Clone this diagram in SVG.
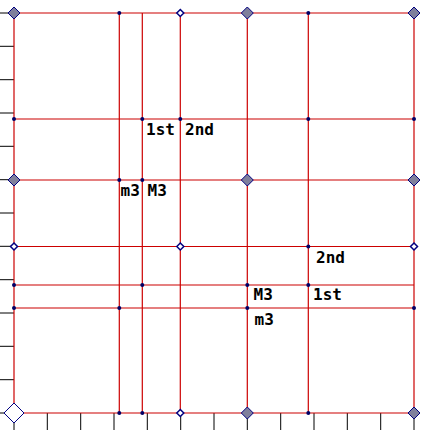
<svg xmlns="http://www.w3.org/2000/svg" xmlns:xlink="http://www.w3.org/1999/xlink" width="431" height="431" viewBox="0 0 431 431">
<style>
.grid line{stroke:#cc0000;stroke-width:1.2}
.ticks line{stroke:#000;stroke-width:1}
.lbl{font-family:"DejaVu Sans Mono","Liberation Mono",monospace;font-size:16px;font-weight:bold;fill:#000}
</style>
<defs>
<circle id="dot" r="2" fill="#000066"/>
<polygon id="gd" points="0,-6 6,0 0,6 -6,0" fill="#7f7f9c" stroke="#000080" stroke-width="1"/>
<polygon id="sd" points="0,-3.5 3.5,0 0,3.5 -3.5,0" fill="#fff" stroke="#000080" stroke-width="1.5"/>
<polygon id="wd" points="0,-10 10,0 0,10 -10,0" fill="#fff" stroke="#000080" stroke-width="1"/>
</defs>
<rect width="431" height="431" fill="#fff"/>
<g id="ticks" class="ticks">
<line x1="0" y1="13" x2="14" y2="13"/><line x1="0" y1="46.3" x2="14" y2="46.3"/><line x1="0" y1="79.7" x2="14" y2="79.7"/><line x1="0" y1="113" x2="14" y2="113"/><line x1="0" y1="146.3" x2="14" y2="146.3"/><line x1="0" y1="179.7" x2="14" y2="179.7"/><line x1="0" y1="213" x2="14" y2="213"/><line x1="0" y1="246.3" x2="14" y2="246.3"/><line x1="0" y1="279.7" x2="14" y2="279.7"/><line x1="0" y1="313" x2="14" y2="313"/><line x1="0" y1="346.3" x2="14" y2="346.3"/><line x1="0" y1="379.7" x2="14" y2="379.7"/><line x1="0" y1="413" x2="14" y2="413"/>
<line x1="14" y1="413" x2="14" y2="430"/><line x1="47.3" y1="413" x2="47.3" y2="430"/><line x1="80.7" y1="413" x2="80.7" y2="430"/><line x1="114" y1="413" x2="114" y2="430"/><line x1="147.3" y1="413" x2="147.3" y2="430"/><line x1="180.7" y1="413" x2="180.7" y2="430"/><line x1="214" y1="413" x2="214" y2="430"/><line x1="247.3" y1="413" x2="247.3" y2="430"/><line x1="280.7" y1="413" x2="280.7" y2="430"/><line x1="314" y1="413" x2="314" y2="430"/><line x1="347.3" y1="413" x2="347.3" y2="430"/><line x1="380.7" y1="413" x2="380.7" y2="430"/><line x1="414" y1="413" x2="414" y2="430"/>
</g>
<g id="connectors" class="grid">
<line x1="14" y1="13" x2="414" y2="13"/><line x1="14" y1="119" x2="414" y2="119"/><line x1="14" y1="180" x2="414" y2="180"/><line x1="14" y1="246.5" x2="414" y2="246.5"/><line x1="14" y1="285" x2="414" y2="285"/><line x1="14" y1="308" x2="414" y2="308"/><line x1="14" y1="413" x2="414" y2="413"/>
<line x1="14" y1="13" x2="14" y2="413"/><line x1="119.3" y1="13" x2="119.3" y2="413"/><line x1="142.3" y1="13" x2="142.3" y2="413"/><line x1="180.3" y1="13" x2="180.3" y2="413"/><line x1="247.3" y1="13" x2="247.3" y2="413"/><line x1="308.3" y1="13" x2="308.3" y2="413"/><line x1="414" y1="13" x2="414" y2="413"/>
</g>
<g id="nodes">
<g id="r0"><use xlink:href="#gd" x="14" y="13"/><use xlink:href="#dot" x="119.3" y="13"/><use xlink:href="#sd" x="180.3" y="13"/><use xlink:href="#gd" x="247.3" y="13"/><use xlink:href="#dot" x="308.3" y="13"/><use xlink:href="#gd" x="414" y="13"/></g>
<g id="r1"><use xlink:href="#dot" x="14" y="119"/><use xlink:href="#dot" x="142.3" y="119"/><use xlink:href="#dot" x="180.3" y="119"/><use xlink:href="#dot" x="308.3" y="119"/><use xlink:href="#dot" x="414" y="119"/></g>
<g id="r2"><use xlink:href="#gd" x="14" y="180"/><use xlink:href="#dot" x="119.3" y="180"/><use xlink:href="#dot" x="142.3" y="180"/><use xlink:href="#gd" x="247.3" y="180"/><use xlink:href="#gd" x="414" y="180"/></g>
<g id="r3"><use xlink:href="#sd" x="14" y="246.5"/><use xlink:href="#sd" x="180.3" y="246.5"/><use xlink:href="#dot" x="308.3" y="246.5"/><use xlink:href="#sd" x="414" y="246.5"/></g>
<g id="r4"><use xlink:href="#dot" x="14" y="285"/><use xlink:href="#dot" x="142.3" y="285"/><use xlink:href="#dot" x="247.3" y="285"/><use xlink:href="#dot" x="308.3" y="285"/></g>
<g id="r5"><use xlink:href="#dot" x="14" y="308"/><use xlink:href="#dot" x="119.3" y="308"/><use xlink:href="#dot" x="247.3" y="308"/><use xlink:href="#dot" x="414" y="308"/></g>
<g id="r6"><use xlink:href="#wd" x="14" y="413"/><use xlink:href="#dot" x="119.3" y="413"/><use xlink:href="#dot" x="142.3" y="413"/><use xlink:href="#sd" x="180.3" y="413"/><use xlink:href="#gd" x="247.3" y="413"/><use xlink:href="#dot" x="308.3" y="413"/><use xlink:href="#gd" x="414" y="413"/></g>
</g>
<g id="labels" class="lbl">
<text x="146" y="135">1st</text>
<text x="185" y="135">2nd</text>
<text x="120.5" y="196">m3</text>
<text x="147.5" y="196">M3</text>
<text x="316" y="263">2nd</text>
<text x="253.5" y="300">M3</text>
<text x="313" y="300">1st</text>
<text x="254.5" y="325">m3</text>
</g>
</svg>
